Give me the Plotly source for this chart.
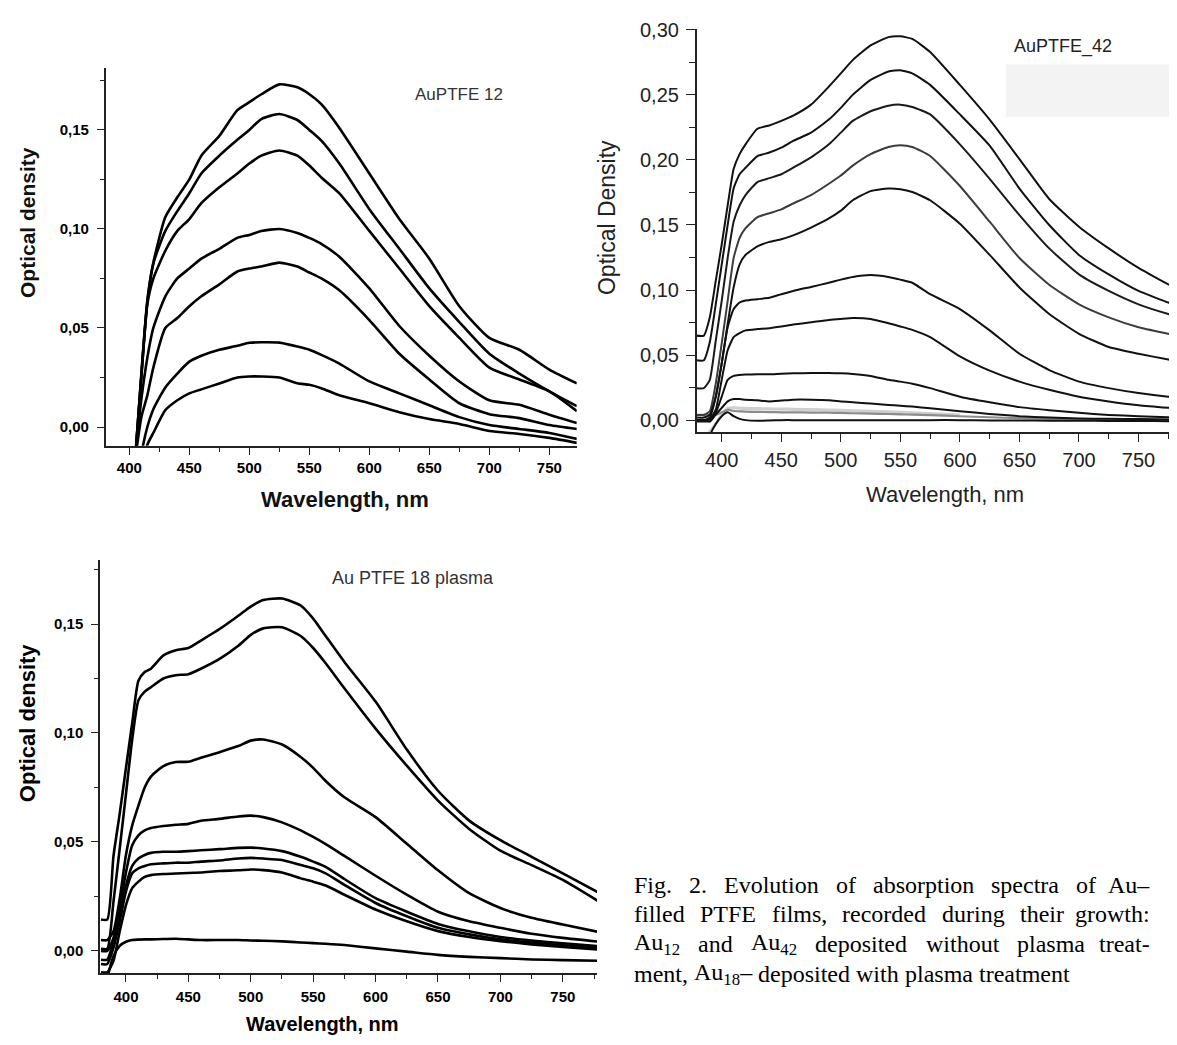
import plotly.graph_objects as go

W, H = 1177, 1045
PAGE_PAD = 8            # the html body margin: the figure is drawn 8px in from the window edge
FW, FH = W - PAGE_PAD, H - PAGE_PAD

# ---------------- AuPTFE 12 (top left) ----------------
wl_12 = [405, 410, 415, 420, 430, 440, 450, 460, 475, 490, 500, 510, 525,
         540, 550, 560, 575, 600, 625, 650, 675, 700, 725, 750, 773]
au12_1 = [-0.015, 0.027, 0.064, 0.083, 0.106, 0.116, 0.125, 0.137, 0.147, 0.160, 0.164, 0.168, 0.173,
          0.1715, 0.168, 0.163, 0.151, 0.128, 0.105, 0.085, 0.061, 0.045, 0.039, 0.029, 0.022]
au12_2 = [-0.015, 0.026, 0.063, 0.0825, 0.099, 0.109, 0.118, 0.128, 0.137, 0.145, 0.150, 0.1555, 0.158,
          0.155, 0.150, 0.1446, 0.133, 0.110, 0.090, 0.070, 0.053, 0.037, 0.027, 0.018, 0.0105]
au12_3 = [-0.015, 0.025, 0.062, 0.075, 0.089, 0.099, 0.105, 0.113, 0.121, 0.128, 0.133, 0.137, 0.1396,
          0.137, 0.132, 0.126, 0.118, 0.099, 0.080, 0.061, 0.045, 0.030, 0.024, 0.018, 0.008]
au12_4 = [-0.014, 0.014, 0.035, 0.050, 0.066, 0.075, 0.080, 0.085, 0.090, 0.0955, 0.097, 0.099, 0.100,
          0.098, 0.0955, 0.0925, 0.086, 0.070, 0.051, 0.036, 0.023, 0.0135, 0.0112, 0.0062, 0.002]
au12_5 = [-0.016, 0.005, 0.016, 0.030, 0.050, 0.055, 0.061, 0.066, 0.072, 0.0785, 0.080, 0.081, 0.083,
          0.081, 0.078, 0.075, 0.069, 0.054, 0.037, 0.024, 0.012, 0.0065, 0.0045, 0.001, -0.001]
au12_6 = [-0.04, -0.014, 0.0, 0.009, 0.020, 0.027, 0.033, 0.036, 0.039, 0.041, 0.0425, 0.0428, 0.0426,
          0.0406, 0.039, 0.0364, 0.032, 0.023, 0.017, 0.011, 0.005, 0.001, -0.001, -0.003, -0.006]
au12_7 = [-0.05, -0.03, -0.009, -0.003, 0.0085, 0.0135, 0.017, 0.019, 0.022, 0.025, 0.0255, 0.0255, 0.025,
          0.0221, 0.0213, 0.0196, 0.016, 0.012, 0.0075, 0.004, 0.0015, -0.002, -0.0035, -0.0055, -0.008]

# ---------------- AuPTFE_42 (top right) ----------------
wl_42 = [378, 385, 390, 395, 400, 405, 410, 415, 420, 430, 440, 450, 460, 475, 490, 500,
         510, 525, 540, 550, 560, 575, 600, 625, 650, 675, 700, 725, 750, 775, 782]
au42_1 = [0.065, 0.065, 0.079, 0.107, 0.135, 0.165, 0.193, 0.2045, 0.212, 0.224, 0.2265, 0.230, 0.234, 0.2425, 0.2564, 0.2665,
          0.2767, 0.288, 0.2944, 0.295, 0.293, 0.283, 0.2577, 0.231, 0.2007, 0.170, 0.1487, 0.132, 0.117, 0.1044, 0.102]
au42_2 = [0.046, 0.046, 0.060, 0.089, 0.1196, 0.150, 0.178, 0.189, 0.194, 0.203, 0.2057, 0.2095, 0.2146, 0.221, 0.231, 0.240,
          0.250, 0.2615, 0.268, 0.269, 0.2665, 0.2577, 0.235, 0.211, 0.178, 0.150, 0.127, 0.112, 0.0993, 0.0904, 0.0887]
au42_3 = [0.0246, 0.0246, 0.031, 0.061, 0.0917, 0.1246, 0.1525, 0.165, 0.173, 0.183, 0.186, 0.189, 0.194, 0.202, 0.212, 0.221,
          0.230, 0.2374, 0.2417, 0.2425, 0.2407, 0.235, 0.212, 0.1855, 0.1576, 0.132, 0.112, 0.0993, 0.089, 0.0816, 0.080]
au42_4 = [0.004, 0.004, 0.0068, 0.028, 0.059, 0.0917, 0.1246, 0.140, 0.1475, 0.156, 0.159, 0.162, 0.1665, 0.173, 0.1817, 0.188,
          0.1956, 0.2045, 0.210, 0.2113, 0.210, 0.203, 0.180, 0.1525, 0.1246, 0.104, 0.089, 0.079, 0.0714, 0.0664, 0.065]
au42_5 = [0.002, 0.002, 0.0043, 0.018, 0.0436, 0.074, 0.102, 0.1196, 0.127, 0.1335, 0.137, 0.139, 0.142, 0.148, 0.155, 0.161,
          0.169, 0.176, 0.178, 0.1774, 0.1753, 0.169, 0.151, 0.127, 0.102, 0.0816, 0.0664, 0.0562, 0.051, 0.0466, 0.0454]
au42_6 = [0.0, 0.0, 0.002, 0.018, 0.0436, 0.0714, 0.0854, 0.0904, 0.092, 0.093, 0.094, 0.0968, 0.0993, 0.1024, 0.1056, 0.108,
          0.110, 0.1115, 0.110, 0.108, 0.1056, 0.0968, 0.0854, 0.069, 0.051, 0.0385, 0.0296, 0.0246, 0.0208, 0.018, 0.0175]
au42_7 = [0.0, 0.0, 0.0005, 0.008, 0.031, 0.0537, 0.0638, 0.0669, 0.069, 0.070, 0.0707, 0.072, 0.0735, 0.0752, 0.077, 0.0778,
          0.0785, 0.0778, 0.0745, 0.072, 0.0694, 0.0638, 0.049, 0.038, 0.0296, 0.0233, 0.018, 0.0144, 0.0115, 0.0095, 0.009]
au42_8 = [-0.001, -0.001, -0.001, 0.0056, 0.018, 0.031, 0.034, 0.0347, 0.035, 0.0352, 0.0352, 0.0357, 0.036, 0.0362, 0.0362, 0.036,
          0.0355, 0.034, 0.031, 0.0296, 0.028, 0.0246, 0.018, 0.0137, 0.010, 0.0076, 0.0056, 0.004, 0.003, 0.0023, 0.0018]
au42_9 = [0.0, 0.0, -0.001, 0.0043, 0.0094, 0.0144, 0.0162, 0.0162, 0.0157, 0.0152, 0.0144, 0.015, 0.0157, 0.0157, 0.0152, 0.0144,
          0.0137, 0.0127, 0.0117, 0.0111, 0.0104, 0.0091, 0.0068, 0.0048, 0.003, 0.002, 0.0013, 0.001, 0.0008, 0.0005, 0.0005]
au42_grey = [0.004, 0.004, 0.004, 0.004, 0.006, 0.008, 0.007, 0.0068, 0.0065, 0.0063, 0.0062, 0.006, 0.006, 0.0058, 0.0057, 0.0055,
             0.0053, 0.005, 0.0047, 0.0045, 0.0042, 0.0038, 0.003, 0.0022, 0.0015, 0.001, 0.0008, 0.0006, 0.0004, 0.0002, 0.0]
au42_pale = [None, -0.014, -0.009, -0.003, 0.004, 0.009, 0.0095, 0.0092, 0.009, 0.0088, 0.0086, 0.0085, 0.0083, 0.008, 0.0078, 0.0075,
             0.0072, 0.0068, 0.0064, 0.006, 0.0056, 0.005, 0.0038, None, None, None, None, None, None, None, None]
au42_base = [None, -0.03, -0.012, -0.003, 0.003, 0.006, 0.003, 0.001, 0.0, -0.0005, -0.0003, 0.0, 0.0, 0.0, 0.0, 0.0,
             0.0, 0.0, 0.0, 0.0, 0.0, 0.0, 0.0, -0.0002, -0.0003, -0.0004, -0.0005, -0.0006, -0.0007, -0.0008, -0.0008]

# ---------------- Au PTFE 18 plasma (bottom left) ----------------
wl_18 = [380, 385, 390, 395, 400, 405, 410, 415, 420, 430, 440, 450, 460, 475, 490, 500,
         510, 525, 540, 550, 560, 575, 600, 625, 650, 675, 700, 725, 750, 778]
au18_1 = [0.0144, 0.0144, 0.0435, 0.063, 0.084, 0.1045, 0.124, 0.128, 0.1295, 0.1356, 0.138, 0.139, 0.1424, 0.1477, 0.1538, 0.158,
          0.161, 0.1617, 0.1585, 0.1525, 0.1445, 0.1326, 0.1144, 0.0924, 0.0735, 0.0598, 0.0508, 0.0432, 0.0356, 0.027]
au18_2 = [0.001, 0.001, 0.0227, 0.047, 0.072, 0.097, 0.115, 0.119, 0.121, 0.125, 0.1265, 0.127, 0.1295, 0.134, 0.140, 0.145,
          0.148, 0.1485, 0.1445, 0.139, 0.132, 0.1205, 0.102, 0.085, 0.069, 0.056, 0.046, 0.0394, 0.0326, 0.023]
au18_3 = [0.005, 0.005, 0.009, 0.024, 0.044, 0.0576, 0.0667, 0.075, 0.080, 0.0848, 0.0867, 0.0868, 0.0886, 0.0912, 0.094, 0.0965,
          0.097, 0.0947, 0.089, 0.084, 0.078, 0.0705, 0.0614, 0.0492, 0.037, 0.0265, 0.0197, 0.0152, 0.0121, 0.0088]
au18_4 = [0.0, 0.0, 0.006, 0.0197, 0.036, 0.0485, 0.053, 0.0553, 0.0564, 0.0573, 0.0579, 0.0583, 0.0597, 0.0606, 0.0617, 0.0621,
          0.0614, 0.059, 0.0553, 0.0523, 0.049, 0.0436, 0.0345, 0.0258, 0.018, 0.0136, 0.0106, 0.0079, 0.006, 0.0043]
au18_5 = [-0.004, -0.004, 0.0045, 0.0167, 0.030, 0.039, 0.0424, 0.044, 0.045, 0.0455, 0.0455, 0.0458, 0.0462, 0.0467, 0.0473, 0.0474,
          0.047, 0.0458, 0.0432, 0.041, 0.0386, 0.033, 0.0242, 0.018, 0.0124, 0.009, 0.0064, 0.0048, 0.0035, 0.0022]
au18_6 = [-0.006, -0.006, 0.0015, 0.0136, 0.0273, 0.0356, 0.0379, 0.039, 0.0398, 0.0402, 0.0405, 0.0405, 0.041, 0.0415, 0.0424, 0.0427,
          0.0424, 0.0417, 0.0394, 0.0379, 0.0356, 0.0303, 0.022, 0.0159, 0.0106, 0.0076, 0.0053, 0.0038, 0.0026, 0.0014]
au18_7 = [-0.0098, -0.0098, -0.0045, 0.009, 0.021, 0.0288, 0.0318, 0.034, 0.0348, 0.0353, 0.0355, 0.0358, 0.036, 0.0367, 0.037, 0.0374,
          0.0371, 0.036, 0.0333, 0.0318, 0.030, 0.0258, 0.019, 0.0136, 0.0091, 0.0064, 0.0045, 0.003, 0.0018, 0.0007]
au18_8 = [-0.02, -0.012, -0.0023, 0.0023, 0.0042, 0.005, 0.0052, 0.0053, 0.0053, 0.0055, 0.0056, 0.0053, 0.005, 0.005, 0.005, 0.0048,
          0.0047, 0.0044, 0.0039, 0.0036, 0.0033, 0.0027, 0.0012, -0.0003, -0.0018, -0.0027, -0.0033, -0.0039, -0.0042, -0.0045]

# ---------------- ticks ----------------
x_ticks = [400, 450, 500, 550, 600, 650, 700, 750]
x_tick_text = ["400", "450", "500", "550", "600", "650", "700", "750"]
x_minor = [425, 475, 525, 575, 625, 675, 725, 775]
y_ticks = [0.0, 0.05, 0.10, 0.15]
y_tick_text = ["0,00", "0,05", "0,10", "0,15"]
y_minor = [0.025, 0.075, 0.125, 0.175]
y_ticks_42 = [0.0, 0.05, 0.10, 0.15, 0.20, 0.25, 0.30]
y_tick_text_42 = ["0,00", "0,05", "0,10", "0,15", "0,20", "0,25", "0,30"]
y_minor_42 = [0.025, 0.075, 0.125, 0.175, 0.225, 0.275]

caption_lines = [
    "Fig. 2. Evolution of absorption spectra of Au–",
    "filled PTFE films, recorded during their growth:",
    "Au<sub>12</sub> and Au<sub>42</sub> deposited without plasma treat-",
    "ment, Au<sub>18</sub>– deposited with plasma treatment",
]


def px(xp):
    return (xp - PAGE_PAD) / FW


def py(yp):
    return 1 - (yp - PAGE_PAD) / FH


fig = go.Figure()

panels = [
    ("x", "y", wl_12, [au12_1, au12_2, au12_3, au12_4, au12_5, au12_6, au12_7], 2.6),
    ("x3", "y3", wl_18, [au18_1, au18_2, au18_3, au18_4, au18_5, au18_6, au18_7, au18_8], 2.6),
]
for xa, ya, wl, curves, lw in panels:
    for c in curves:
        fig.add_trace(go.Scatter(x=wl, y=c, mode="lines", xaxis=xa, yaxis=ya,
                                 line=dict(color="#000000", width=lw, shape="spline", smoothing=0.6),
                                 showlegend=False, hoverinfo="skip"))

# AuPTFE_42: pale / grey traces first so black lines sit on top
fig.add_trace(go.Scatter(x=wl_42, y=au42_pale, mode="lines", xaxis="x2", yaxis="y2",
                         line=dict(color="#cfcfcf", width=3.2, shape="spline", smoothing=0.5),
                         showlegend=False, hoverinfo="skip"))
fig.add_trace(go.Scatter(x=wl_42, y=au42_grey, mode="lines", xaxis="x2", yaxis="y2",
                         line=dict(color="#8c8c8c", width=2.2, shape="spline", smoothing=0.5),
                         showlegend=False, hoverinfo="skip"))
colors_42 = ["#111111", "#111111", "#1a1a1a", "#3c3c3c", "#111111", "#111111", "#111111", "#111111", "#111111", "#111111"]
for c, col in zip([au42_1, au42_2, au42_3, au42_4, au42_5, au42_6, au42_7, au42_8, au42_9, au42_base], colors_42):
    fig.add_trace(go.Scatter(x=wl_42, y=c, mode="lines", xaxis="x2", yaxis="y2",
                             line=dict(color=col, width=2.0, shape="spline", smoothing=0.5),
                             showlegend=False, hoverinfo="skip"))

sans = "Liberation Sans, Arial, sans-serif"
bold_tick = dict(family=sans, size=15, color="#000000", weight="bold")
plain_tick = dict(family=sans, size=20, color="#222222")


def xaxis(dom, rng, font, ticklen, anchor, standoff):
    return dict(domain=dom, range=rng, anchor=anchor, showline=True, linecolor="#222222", linewidth=1.5,
                showgrid=False, zeroline=False, ticks="outside", ticklen=ticklen, tickwidth=1.4,
                tickcolor="#222222", tickmode="array", tickvals=x_ticks, ticktext=x_tick_text,
                tickfont=font, ticklabelstandoff=standoff,
                minor=dict(tickmode="array", tickvals=x_minor, ticks="outside", ticklen=ticklen - 3,
                           tickwidth=1.2, tickcolor="#222222"))


def yaxis(dom, rng, font, ticklen, anchor, tv, tt, tm, standoff):
    return dict(domain=dom, range=rng, anchor=anchor, showline=True, linecolor="#222222", linewidth=1.5,
                showgrid=False, zeroline=False, ticks="outside", ticklen=ticklen, tickwidth=1.4,
                tickcolor="#222222", tickmode="array", tickvals=tv, ticktext=tt,
                tickfont=font, ticklabelstandoff=standoff, ticklabeloverflow="allow",
                minor=dict(tickmode="array", tickvals=tm, ticks="outside", ticklen=ticklen - 3,
                           tickwidth=1.2, tickcolor="#222222"))


fig.update_layout(
    width=FW, height=FH, autosize=False,
    margin=dict(l=0, r=0, t=0, b=0),
    paper_bgcolor="white", plot_bgcolor="white",
    xaxis=xaxis([px(105.7), px(576.7)], [380.3, 772.8], bold_tick, 7, "y", 0),
    yaxis=yaxis([py(440), py(58)], [-0.0095, 0.1815], bold_tick, 7, "x", y_ticks, y_tick_text, y_minor, 5),
    xaxis2=xaxis([px(696.7), 1.0], [379.0, 782.3], plain_tick, 8, "y2", 1),
    yaxis2=yaxis([py(426), py(19.3)], [-0.0091, 0.3005], plain_tick, 9, "x2", y_ticks_42, y_tick_text_42, y_minor_42, 3),
    xaxis3=xaxis([px(100), px(597)], [379.2, 777.4], bold_tick, 7, "y3", 2),
    yaxis3=yaxis([py(972.7), py(555)], [-0.0103, 0.1795], bold_tick, 7, "x3", y_ticks, y_tick_text, y_minor, 5),
)

fig.add_shape(type="rect", xref="paper", yref="paper", x0=px(1006), x1=1.0, y0=py(108), y1=py(55),
              fillcolor="#f3f3f3", line=dict(width=0), layer="below")

notes = [
    # text, x px, y px, size, bold, angle, color
    ("AuPTFE 12", 459, 85, 17, False, 0, "#333333"),
    ("Optical density", 27, 215, 21, True, -90, "#111111"),
    ("Wavelength, nm", 345, 494, 22, True, 0, "#111111"),
    ("AuPTFE_42", 1063, 37, 18, False, 0, "#222222"),
    ("Optical Density", 607, 210, 23, False, -90, "#222222"),
    ("Wavelength, nm", 945, 489, 22, False, 0, "#222222"),
    ("Au PTFE 18 plasma", 413, 573, 18, False, 0, "#333333"),
    ("Optical density", 27, 720, 22, True, -90, "#000000"),
    ("Wavelength, nm", 322, 1024, 20, True, 0, "#000000"),
]
for text, xp, yp, size, bold, ang, col in notes:
    fig.add_annotation(text=text, x=px(xp), y=py(yp), xref="paper", yref="paper", showarrow=False,
                       textangle=ang, xanchor="center", yanchor="middle",
                       font=dict(family=sans, size=size, color=col, weight="bold" if bold else "normal"))

# caption, justified between two edges using Times advance widths (em/1000)
TIMES = {"a": 444, "b": 500, "c": 444, "d": 500, "e": 444, "f": 333, "g": 500, "h": 500, "i": 278,
         "j": 278, "k": 500, "l": 278, "m": 778, "n": 500, "o": 500, "p": 500, "q": 500, "r": 333,
         "s": 389, "t": 278, "u": 500, "v": 500, "w": 722, "x": 500, "y": 500, "z": 444,
         "A": 722, "E": 611, "F": 556, "P": 556, "T": 611, ".": 250, ",": 250, ":": 278,
         "–": 500, "-": 333}
CAP_SIZE = 24
CAP_LEFT, CAP_RIGHT = 632, 1152
cap_y = [883, 913, 943, 973]
serif = "Liberation Serif, Times New Roman, serif"


def word_width(word):
    total, scale, i = 0.0, 1.0, 0
    while i < len(word):
        if word.startswith("<sub>", i):
            scale, i = 0.7, i + 5
            continue
        if word.startswith("</sub>", i):
            scale, i = 1.0, i + 6
            continue
        total += TIMES.get(word[i], 500) * scale
        i += 1
    return total / 1000.0 * CAP_SIZE


for k, (line, yp) in enumerate(zip(caption_lines, cap_y)):
    words = line.split(" ")
    widths = [word_width(w) for w in words]
    if k < len(caption_lines) - 1:
        gap = (CAP_RIGHT - CAP_LEFT - sum(widths)) / (len(words) - 1)
    else:
        gap = 0.25 * CAP_SIZE
    xpos = CAP_LEFT
    for j, (w, wd) in enumerate(zip(words, widths)):
        last = (k < len(caption_lines) - 1) and j == len(words) - 1
        fig.add_annotation(text=w, x=px(CAP_RIGHT if last else xpos), y=py(yp), xref="paper", yref="paper",
                           showarrow=False, xanchor="right" if last else "left", yanchor="middle",
                           font=dict(family=serif, size=CAP_SIZE, color="#000000"))
        xpos += wd + gap

fig.write_html("out.html")
